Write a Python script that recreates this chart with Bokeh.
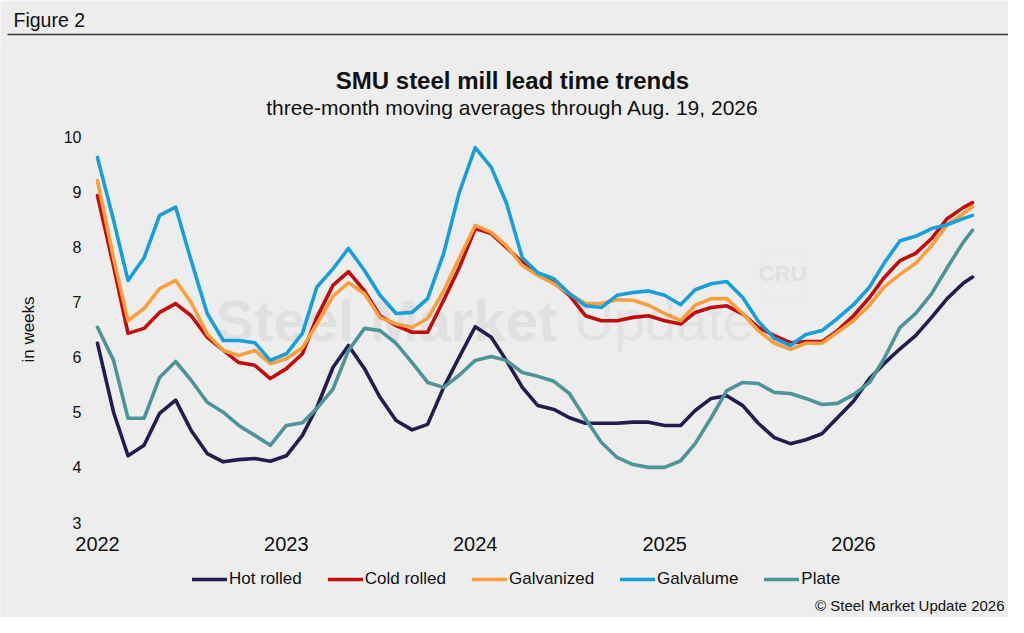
import math
import pandas as pd
from bokeh.plotting import figure
from bokeh.models import Range1d, Legend, LegendItem, Label, BoxAnnotation
from bokeh.embed import file_html
from bokeh.resources import INLINE

# monthly readings Jan 2022 .. Aug 2026, last point Aug 19, 2026
dates = list(pd.date_range("2022-01-01", "2026-08-01", freq="MS")) + [pd.Timestamp("2026-08-19")]

hot_rolled = [6.25, 5.0, 4.21, 4.4, 4.98, 5.22, 4.67, 4.25, 4.1, 4.14, 4.16, 4.11, 4.21, 4.58, 5.09, 5.81,
              6.21, 5.79, 5.27, 4.85, 4.68, 4.78, 5.45, 6.0, 6.55, 6.36, 5.94, 5.45, 5.12, 5.05, 4.9, 4.8,
              4.8, 4.8, 4.82, 4.82, 4.76, 4.76, 5.03, 5.25, 5.3, 5.12, 4.8, 4.54, 4.43, 4.5, 4.61, 4.9,
              5.2, 5.61, 5.88, 6.15, 6.39, 6.72, 7.06, 7.34, 7.45]
cold_rolled = [8.93, 7.65, 6.43, 6.52, 6.81, 6.97, 6.75, 6.36, 6.12, 5.9, 5.85, 5.61, 5.79, 6.06, 6.72, 7.3,
               7.55, 7.2, 6.75, 6.57, 6.45, 6.45, 7.03, 7.62, 8.33, 8.24, 7.99, 7.72, 7.52, 7.35, 7.12, 6.75,
               6.66, 6.66, 6.72, 6.75, 6.66, 6.6, 6.81, 6.9, 6.93, 6.78, 6.54, 6.39, 6.26, 6.28, 6.28, 6.48,
               6.75, 7.08, 7.44, 7.75, 7.88, 8.15, 8.51, 8.71, 8.8]
galvanized = [9.2, 7.8, 6.66, 6.88, 7.24, 7.39, 6.99, 6.42, 6.12, 6.03, 6.12, 5.88, 5.97, 6.17, 6.6, 7.1,
              7.35, 7.15, 6.72, 6.6, 6.54, 6.7, 7.2, 7.79, 8.39, 8.26, 8.02, 7.66, 7.48, 7.33, 7.15, 6.97,
              6.97, 7.04, 7.03, 6.94, 6.79, 6.66, 6.94, 7.06, 7.06, 6.79, 6.48, 6.25, 6.14, 6.25, 6.25, 6.45,
              6.66, 6.94, 7.27, 7.5, 7.7, 8.02, 8.4, 8.6, 8.73]
galvalume = [9.62, 8.48, 7.39, 7.8, 8.57, 8.72, 7.75, 6.79, 6.3, 6.3, 6.26, 5.94, 6.06, 6.43, 7.27, 7.6,
             7.97, 7.57, 7.12, 6.79, 6.81, 7.06, 7.88, 8.98, 9.8, 9.44, 8.8, 7.8, 7.53, 7.42, 7.15, 6.93,
             6.9, 7.12, 7.17, 7.2, 7.12, 6.95, 7.22, 7.33, 7.37, 7.08, 6.65, 6.34, 6.21, 6.41, 6.48, 6.7,
             6.95, 7.27, 7.7, 8.11, 8.19, 8.33, 8.4, 8.51, 8.57]
plate = [6.54, 5.94, 4.89, 4.89, 5.63, 5.92, 5.58, 5.18, 5.0, 4.76, 4.58, 4.4, 4.76, 4.81, 5.07, 5.42,
         6.12, 6.52, 6.48, 6.25, 5.9, 5.54, 5.45, 5.67, 5.94, 6.01, 5.94, 5.72, 5.65, 5.56, 5.34, 4.88,
         4.45, 4.18, 4.05, 4.0, 4.0, 4.12, 4.43, 4.9, 5.39, 5.54, 5.52, 5.36, 5.34, 5.25, 5.14, 5.16,
         5.32, 5.54, 5.97, 6.54, 6.79, 7.15, 7.62, 8.08, 8.3]

series_names = ["Hot rolled", "Cold rolled", "Galvanized", "Galvalume", "Plate"]
series_colors = ["#221d4f", "#c40a0a", "#fa9f3e", "#169fdb", "#4f9399"]
year_ticks = [2022, 2023, 2024, 2025, 2026]
y_ticks = [3, 4, 5, 6, 7, 8, 9, 10]

FONT = "Liberation Sans"
BG = "#ededed"
TXT = "#111111"
W, H = 1008, 617

# the plot frame fills the whole canvas, so that every text can sit anywhere on it;
# the ranges are chosen so the data area lands where the original chart has it
px_per_day = 189 / 365.25
px_per_week = (522 - 136) / 7
x0 = pd.Timestamp("2022-01-01") - pd.Timedelta(days=97 / px_per_day)
x1 = x0 + pd.Timedelta(days=W / px_per_day)
y_bottom = 3 - (H - 522) / px_per_week
y_top = 10 + 136 / px_per_week

p = figure(width=W, height=H, x_axis_type="datetime",
           x_range=Range1d(x0, x1), y_range=Range1d(y_bottom, y_top),
           x_axis_location=None, y_axis_location=None, min_border=0,
           output_backend="svg", toolbar_location=None,
           background_fill_color=BG, border_fill_color=BG, outline_line_color=None)
p.xgrid.grid_line_color = None
p.ygrid.grid_line_color = None


def scr(**kw):
    return dict(x_units="screen", y_units="screen", text_font=FONT, **kw)


# panel border and header rule
p.add_layout(BoxAnnotation(left=7, right=W + 10, top=H - 43, bottom=-10,
                           left_units="screen", right_units="screen", top_units="screen", bottom_units="screen",
                           fill_alpha=0, line_color="#fafafa", line_width=2, level="underlay"))
p.add_layout(BoxAnnotation(left=7, right=W, top=H - 33.3, bottom=H - 34.8,
                           left_units="screen", right_units="screen", top_units="screen", bottom_units="screen",
                           fill_color="#3a3a3a", fill_alpha=1, line_alpha=0))

# watermark
p.add_layout(Label(x=215, y=H - 320, text="Steel Market", text_font_style="bold", text_font_size="58px",
                   text_color="#e0e0e0", text_baseline="middle", level="underlay", **scr()))
p.add_layout(Label(x=573, y=H - 320, text="Update", text_font_size="56px",
                   text_color="#e2e2e2", text_baseline="middle", level="underlay", **scr()))
p.add_layout(BoxAnnotation(left=760, right=805, top=H - 250, bottom=H - 296,
                           left_units="screen", right_units="screen", top_units="screen", bottom_units="screen",
                           fill_alpha=0, line_color="#e3e3e3", line_width=1.5, level="underlay"))
p.add_layout(Label(x=782, y=H - 273, text="CRU", text_font_style="bold", text_font_size="22px",
                   text_color="#e0e0e0", text_align="center", text_baseline="middle", level="underlay", **scr()))

# data lines
all_series = [hot_rolled, cold_rolled, galvanized, galvalume, plate]
items = []
for name, color, vals in zip(series_names, series_colors, all_series):
    r = p.line(dates, vals, line_color=color, line_width=3.6, line_join="round", line_cap="round")
    items.append(LegendItem(label=name, renderers=[r]))

# tick labels, placed through the data scales
for v in y_ticks:
    p.add_layout(Label(x=81, y=v, x_units="screen", y_units="data", text=str(v), text_font=FONT,
                       text_font_size="16px", text_color=TXT, text_align="right", text_baseline="middle"))
for yr in year_ticks:
    p.add_layout(Label(x=pd.Timestamp(f"{yr}-01-01").timestamp() * 1000, y=H - 543,
                       x_units="data", y_units="screen", text=str(yr), text_font=FONT,
                       text_font_size="20px", text_color=TXT, text_align="center", text_baseline="middle"))
p.add_layout(Label(x=28, y=H - 329, text="in weeks", angle=math.pi / 2, text_font_size="17px",
                   text_color=TXT, text_align="center", text_baseline="middle", **scr()))

legend = Legend(items=items, orientation="horizontal", location=(192, H - 589),
                glyph_width=35, glyph_height=20, label_standoff=2, spacing=26,
                padding=0, margin=0, background_fill_alpha=0, border_line_color=None,
                label_text_font=FONT, label_text_font_size="17px", label_text_color=TXT)
p.add_layout(legend, "center")

# header and titles
p.add_layout(Label(x=13, y=H - 19, text="Figure 2", text_font_size="19.5px", text_color=TXT,
                   text_baseline="middle", **scr()))
p.add_layout(Label(x=512, y=H - 80, text="SMU steel mill lead time trends", text_font_size="24px",
                   text_font_style="bold", text_color=TXT, text_align="center", text_baseline="middle", **scr()))
p.add_layout(Label(x=512, y=H - 107, text="three-month moving averages through Aug. 19, 2026",
                   text_font_size="21px", text_color=TXT, text_align="center", text_baseline="middle", **scr()))
p.add_layout(Label(x=1004, y=H - 605, text="\u00a9 Steel Market Update 2026", text_font_size="15px",
                   text_color=TXT, text_align="right", text_baseline="middle", **scr()))

open("out.html", "w").write(file_html(p, INLINE))
